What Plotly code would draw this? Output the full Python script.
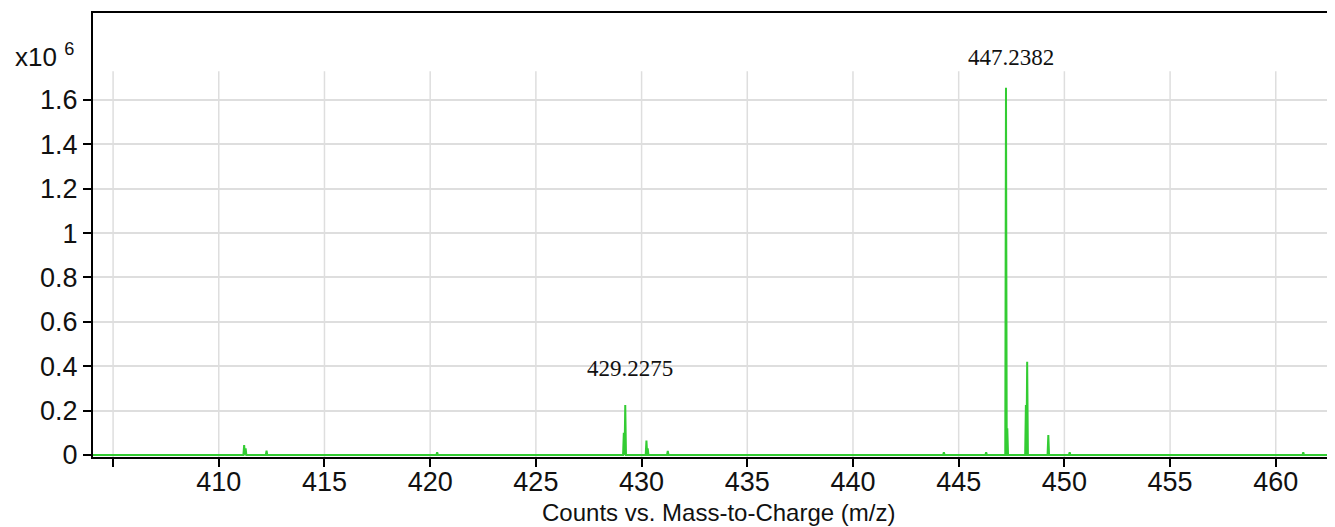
import plotly.graph_objects as go

# Peak list (m/z, intensity in units of 10^6 counts)
peak_mz = [411.20, 411.27, 412.26, 420.33, 429.16, 429.2275, 430.23, 430.29, 431.24,
           444.30, 446.30, 447.2382, 447.30, 448.18, 448.24, 449.24, 450.25, 461.30]
peak_int = [0.045, 0.030, 0.020, 0.012, 0.100, 0.225, 0.065, 0.030, 0.018,
            0.012, 0.012, 1.655, 0.120, 0.225, 0.420, 0.090, 0.012, 0.012]

x_ticks = [405, 410, 415, 420, 425, 430, 435, 440, 445, 450, 455, 460]
x_labels = ["", "410", "415", "420", "425", "430", "435", "440", "445", "450", "455", "460"]
y_ticks = [0, 0.2, 0.4, 0.6, 0.8, 1.0, 1.2, 1.4, 1.6]
y_labels = ["0", "0.2", "0.4", "0.6", "0.8", "1", "1.2", "1.4", "1.6"]

labelled_mz = [429.2275, 447.2382]
label_y = [0.392, 1.79]

x_min, x_max = 404.05, 463.18
y_min, y_max = -0.009, 1.992
grid_top = 1.73

SANS = "Liberation Sans, Arial, sans-serif"
SERIF = "Liberation Serif, Times New Roman, serif"

# Build a profile-like trace: baseline with narrow spikes at each peak
hw = 0.035
order = sorted(range(len(peak_mz)), key=lambda i: peak_mz[i])
xs, ys = [x_min], [0.0]
for i in order:
    m, h = peak_mz[i], peak_int[i]
    xs += [m - hw, m, m + hw]
    ys += [0.0, h, 0.0]
xs.append(x_max)
ys.append(0.0)

fig = go.Figure()
fig.add_trace(go.Scatter(x=xs, y=ys, mode="lines",
                         line=dict(color="#33cc33", width=2),
                         hoverinfo="skip", showlegend=False))

shapes = []
for t in x_ticks:
    shapes.append(dict(type="line", xref="x", yref="y", x0=t, x1=t, y0=y_min, y1=grid_top,
                       line=dict(color="#dedede", width=1.5), layer="below"))

annotations = [
    dict(x=m, y=yl, xref="x", yref="y", text=f"{m:.4f}", showarrow=False,
         xanchor="center", yanchor="middle", xshift=5,
         font=dict(family=SERIF, size=23, color="#111111"))
    for m, yl in zip(labelled_mz, label_y)
]
annotations.append(dict(xref="paper", yref="paper", x=-0.064, y=0.905, xanchor="left",
                        yanchor="middle", showarrow=False,
                        text="x10 <sup>6</sup>",
                        font=dict(family=SANS, size=26, color="#111111")))
annotations.append(dict(xref="paper", yref="paper", x=0.5, y=-0.091, xanchor="center",
                        yanchor="top", showarrow=False,
                        text="Counts vs. Mass-to-Charge (m/z)",
                        font=dict(family=SANS, size=24, color="#111111")))

# Page body has an 8px default margin, so margins are offset by 8px
fig.update_layout(
    width=1335, height=527,
    margin=dict(l=85, r=0, t=5, b=78, autoexpand=False),
    plot_bgcolor="white", paper_bgcolor="white",
    shapes=shapes, annotations=annotations,
    font=dict(family=SANS, size=27, color="#111111"),
    xaxis=dict(range=[x_min, x_max], tickvals=x_ticks, ticktext=x_labels,
               showgrid=False, zeroline=False, showline=True, linecolor="black",
               linewidth=2, mirror=True, ticks="outside", ticklen=8, tickwidth=2,
               tickcolor="black", automargin=False, ticklabelstandoff=-8),
    yaxis=dict(range=[y_min, y_max], tickvals=y_ticks, ticktext=y_labels,
               showgrid=True, gridcolor="#dedede", gridwidth=1.5, zeroline=False,
               showline=True, linecolor="black", linewidth=2, ticks="outside",
               ticklen=8, tickwidth=2, tickcolor="black", automargin=False),
)

fig.write_html("out.html")
